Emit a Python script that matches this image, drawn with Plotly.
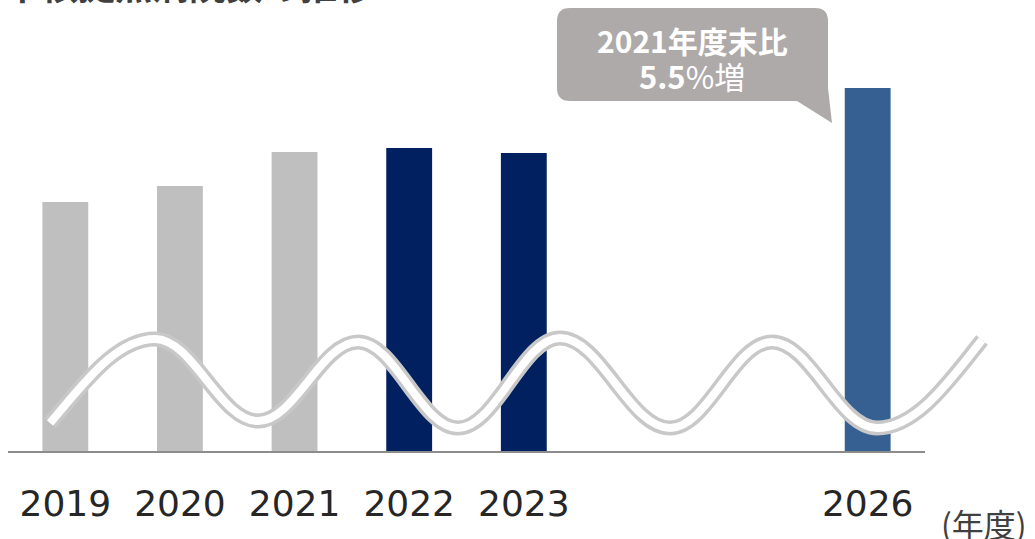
import plotly.graph_objects as go

# ---- data ----
years = [2019, 2020, 2021, 2022, 2023, 2026]
tick_labels = ["2019", "2020", "2021", "2022", "2023", "2026"]
values = [1114, 1130, 1164, 1168, 1163, 1228]
bar_colors = ["#BFBFBF", "#BFBFBF", "#BFBFBF", "#002060", "#002060", "#376092"]
callout_line1 = "<b>2021年度末比</b>"
callout_line2 = "<b>5.5</b>%増"
unit_label = "(年度)"
title_text = "中核拠点病院数の推移"
y_base = 865
y_top = 1276

W, H = 1035, 539
ML, MR, MT, MB = 8, 110, 40, 88
PW, PH = W - ML - MR, H - MT - MB


def px(x, y):
    return (x - ML) / PW, (H - MB - y) / PH


def path(cmds):
    out = []
    for c in cmds:
        if isinstance(c, str):
            out.append(c)
        else:
            xp, yp = px(*c)
            out.append(f"{xp:.5f},{yp:.5f}")
    return " ".join(out)


fig = go.Figure()
fig.add_trace(go.Bar(
    x=years, y=values, width=0.4,
    marker=dict(color=bar_colors, line=dict(width=0)),
    hoverinfo="skip", showlegend=False,
))

# decorative wave (axis break symbol)
ext = [(155, 339), (258, 421), (358, 342), (458, 428), (560, 338),
       (670, 428), (772, 342), (877, 428)]
cmds = ["M", (50, 423), "C", (82, 386), (115, ext[0][1]), ext[0]]
for (x0, y0), (x1, y1) in zip(ext[:-1], ext[1:]):
    L = x1 - x0
    cmds += ["C", (x0 + 0.37 * L, y0), (x1 - 0.37 * L, y1), (x1, y1)]
cmds += ["C", (917, 428), (950, 380), (982, 340)]
wave = path(cmds)
for col, wdt in [("#C8C8C8", 15), ("#FFFFFF", 8)]:
    fig.add_shape(type="path", path=wave, xref="paper", yref="paper",
                  line=dict(color=col, width=wdt), fillcolor="rgba(0,0,0,0)",
                  layer="above")

# callout bubble
bub = path(["M", (570, 8), "L", (815, 8), "Q", (828, 8), (828, 21),
            "L", (828, 88), "L", (832, 123), "L", (797, 101), "L", (570, 101),
            "Q", (557, 101), (557, 88), "L", (557, 21), "Q", (557, 8), (570, 8), "Z"])
fig.add_shape(type="path", path=bub, xref="paper", yref="paper",
              line=dict(width=0), fillcolor="#AEAAAA", layer="above")

for txt, cy, sz in [(callout_line1, 40, 30), (callout_line2, 75, 31)]:
    bx, by = px(692, cy)
    fig.add_annotation(x=bx, y=by, xref="paper", yref="paper", text=txt,
                       showarrow=False, xanchor="center", yanchor="middle",
                       font=dict(family="Noto Sans CJK JP", size=sz, color="#FFFFFF"))

ux, uy = px(984, 523)
fig.add_annotation(x=ux, y=uy, xref="paper", yref="paper", text=unit_label,
                   showarrow=False, xanchor="center", yanchor="middle",
                   font=dict(family="Noto Sans CJK JP", size=32, color="#404040"))

tx, ty = px(2, 13)
fig.add_annotation(x=tx, y=ty, xref="paper", yref="paper", text="<b>" + title_text + "</b>",
                   showarrow=False, xanchor="left", yanchor="bottom",
                   font=dict(family="Noto Sans CJK JP", size=37, color="#404040"))

fig.update_layout(
    width=W, height=H,
    margin=dict(l=ML, r=MR, t=MT, b=MB),
    paper_bgcolor="white", plot_bgcolor="white",
    xaxis=dict(range=[2018.5, 2026.5], tickvals=years, ticktext=tick_labels,
               showgrid=False, zeroline=False, showline=True,
               linecolor="#8C8C8C", linewidth=1.5, ticks="",
               ticklabelstandoff=20,
               tickfont=dict(family="DejaVu Sans", size=36, color="#262626")),
    yaxis=dict(range=[y_base, y_top], visible=False, showgrid=False),
)

fig.write_html("out.html", config={"displayModeBar": False},
               post_script="document.body.style.margin='0';document.body.style.overflow='hidden';")
